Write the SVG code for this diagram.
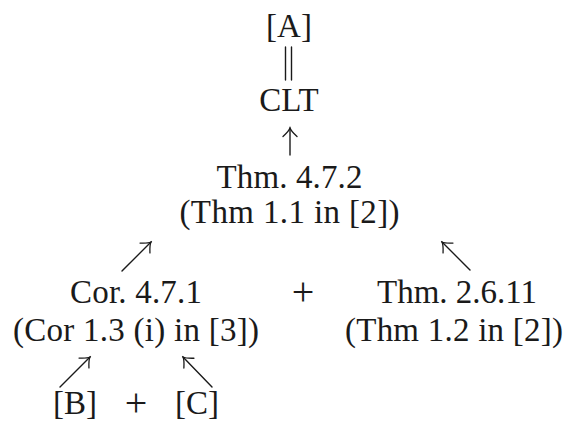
<svg xmlns="http://www.w3.org/2000/svg" width="569" height="430" viewBox="0 0 569 430">
<defs>
<style>
text{font-family:"Liberation Serif","DejaVu Serif",serif;font-size:33px;fill:#1a1a1a;text-anchor:middle}
.plus{font-size:40px}
.c{stroke:#1a1a1a;stroke-width:1.4;fill:none;stroke-linecap:round}
</style>
<marker id="ah" viewBox="-10 -8 12 16" markerWidth="12" markerHeight="16" refX="0" refY="0" orient="auto" markerUnits="userSpaceOnUse">
<path d="M-8.5,-7 Q-3,-1 0,0 Q-3,1 -8.5,7" fill="none" stroke="#1a1a1a" stroke-width="1.3" stroke-linecap="round"/>
</marker>
</defs>
<rect width="569" height="430" fill="#fff"/>
<g id="n-A"><text x="289" y="37">[A]</text></g>
<g id="n-CLT"><text x="289" y="111">CLT</text></g>
<g id="n-Thm472"><text x="289.5" y="188" textLength="146" lengthAdjust="spacing">Thm. 4.7.2</text><text x="289.5" y="223" textLength="220" lengthAdjust="spacing">(Thm 1.1 in [2])</text></g>
<g id="n-Cor471"><text x="136" y="303" textLength="132" lengthAdjust="spacing">Cor. 4.7.1</text><text x="136" y="341" textLength="246" lengthAdjust="spacing">(Cor 1.3 (i) in [3])</text></g>
<g id="n-Thm2611"><text x="457" y="303" textLength="160" lengthAdjust="spacing">Thm. 2.6.11</text><text x="454" y="341" textLength="218" lengthAdjust="spacing">(Thm 1.2 in [2])</text></g>
<g id="n-B"><text x="75" y="414">[B]</text></g>
<g id="n-C"><text x="197" y="414">[C]</text></g>
<g id="plus-signs"><text class="plus" x="303" y="305">+</text><text class="plus" x="136" y="416">+</text></g>
<g id="connectors">
<line class="c" x1="285.5" y1="47" x2="285.5" y2="80"/>
<line class="c" x1="291.5" y1="47" x2="291.5" y2="80"/>
<line class="c" x1="290" y1="155" x2="290" y2="128" marker-end="url(#ah)"/>
<line class="c" x1="122" y1="271" x2="151" y2="242" marker-end="url(#ah)"/>
<line class="c" x1="470" y1="270" x2="442" y2="242" marker-end="url(#ah)"/>
<line class="c" x1="60" y1="387" x2="90" y2="357" marker-end="url(#ah)"/>
<line class="c" x1="212" y1="387" x2="183" y2="357" marker-end="url(#ah)"/>
</g>
</svg>
